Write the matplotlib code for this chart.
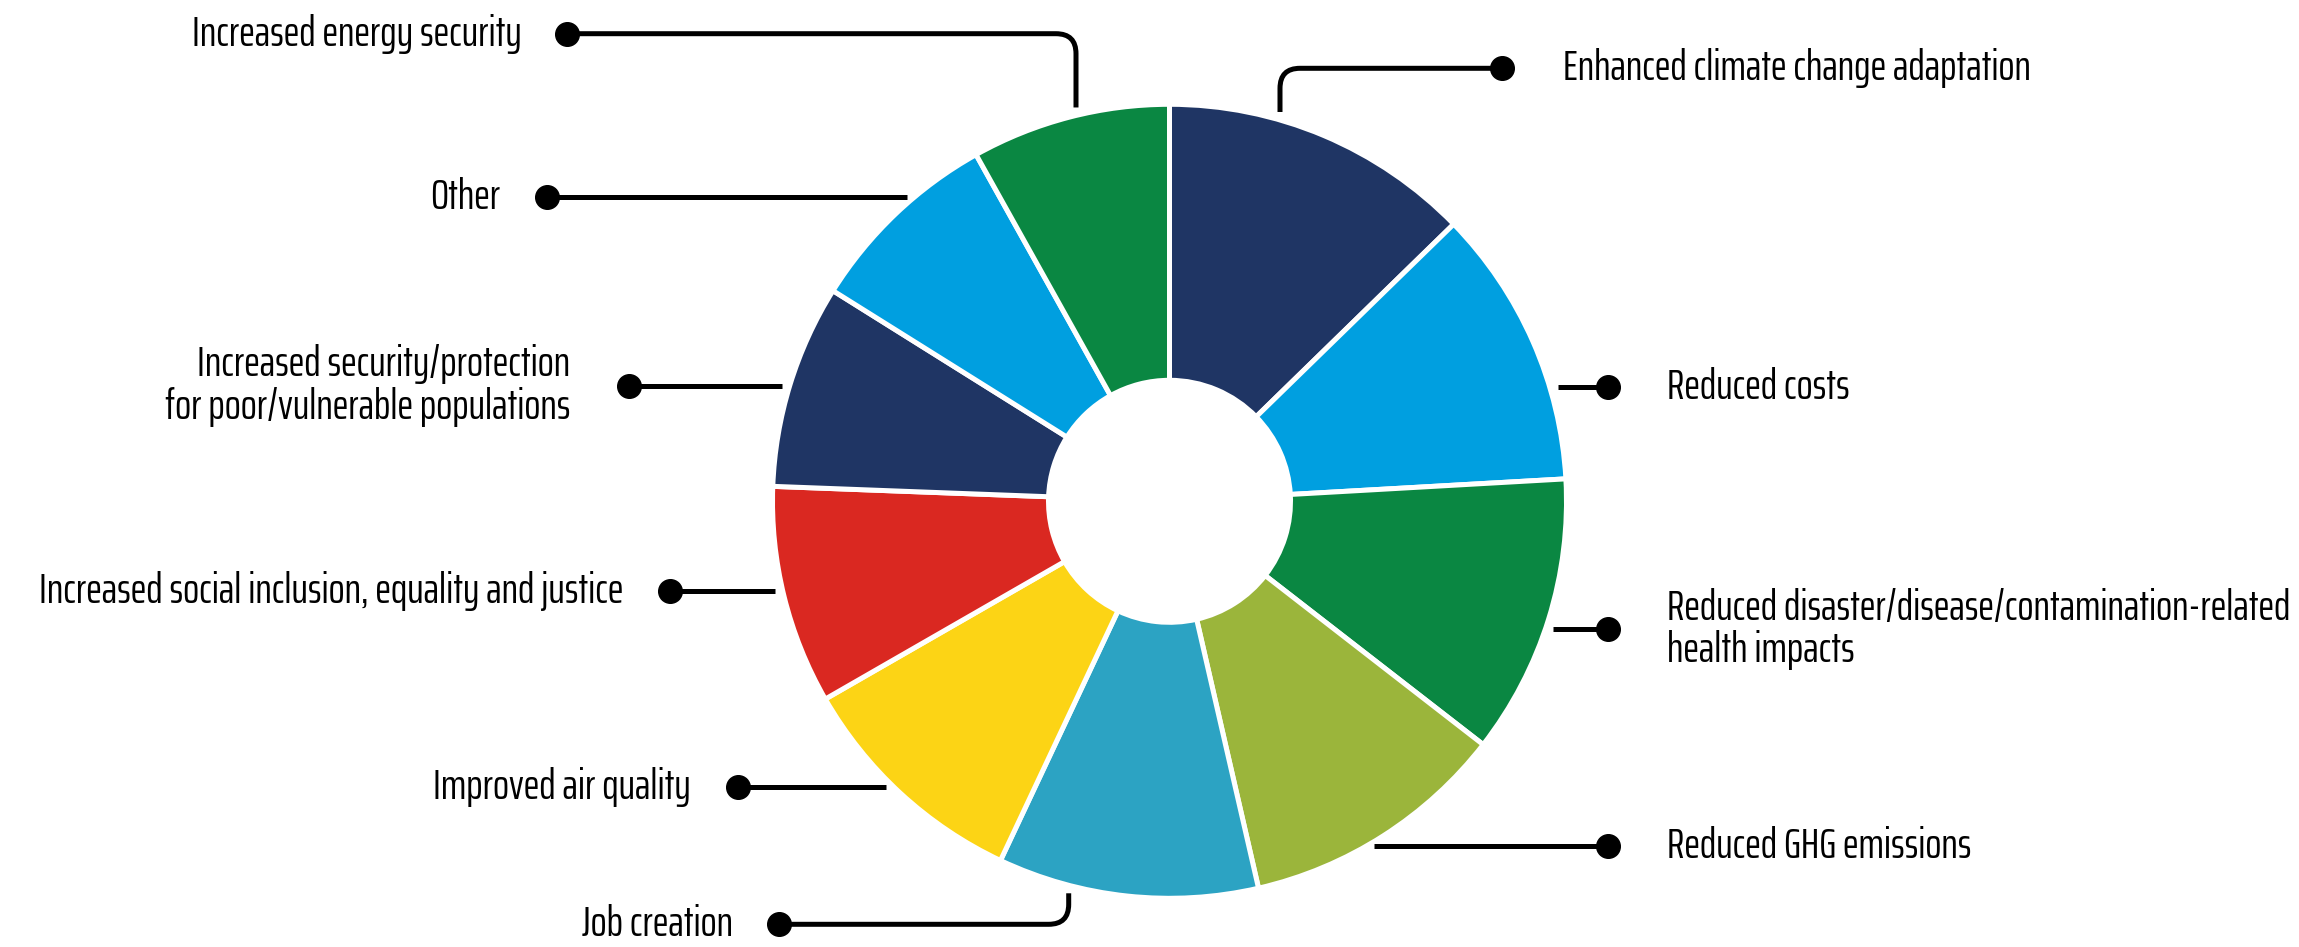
import matplotlib
matplotlib.use("Agg")
import matplotlib.pyplot as plt
import numpy as np
import os
from matplotlib.path import Path
from matplotlib.patches import PathPatch
from matplotlib import font_manager
from matplotlib.font_manager import FontProperties

# ---------------- data ----------------
categories = [
    "Enhanced climate change adaptation",
    "Reduced costs",
    "Reduced disaster/disease/contamination-related\nhealth impacts",
    "Reduced GHG emissions",
    "Job creation",
    "Improved air quality",
    "Increased social inclusion, equality and justice",
    "Increased security/protection\nfor poor/vulnerable populations",
    "Other",
    "Increased energy security",
]
values = [12.7, 11.4, 11.4, 10.9, 10.6, 9.7, 8.9, 8.3, 8.0, 8.1]
colors = ["#1F3564", "#009FE0", "#0A8742", "#9BB53B", "#2CA3C3",
          "#FCD415", "#DA2821", "#1F3564", "#009FE0", "#0A8742"]

# ---------------- layout ----------------
W, H = 2299, 947
CX, CY = 1169.5, 947 - 501.3
R_OUT, R_IN = 397, 121
GAP = 8

# pick a squarish extra-condensed regular sans font
preferred = ["Saira ExtraCondensed", "Saira Extra Condensed", "Sofia Sans Extra Condensed",
             "Fira Sans Extra Condensed", "Barlow Condensed", "Archivo Narrow",
             "Liberation Sans Narrow"]
FP = None
entries = font_manager.fontManager.ttflist
for name in preferred:
    for f in entries:
        base = os.path.basename(f.fname).lower()
        if f.name == name and f.style == "normal" and (
                "regular" in base or "[wght]" in base or f.weight in (400, "normal")):
            if "italic" in base:
                continue
            FP = dict(fname=f.fname)
            break
    if FP:
        break
if FP is None:
    FP = dict(family="DejaVu Sans", stretch="condensed")

fig = plt.figure(figsize=(W / 100, H / 100), dpi=100)
ax = fig.add_axes([0, 0, 1, 1])

ax.pie(values, colors=colors, startangle=90, counterclock=False,
       radius=R_OUT, center=(CX, CY),
       wedgeprops=dict(width=R_OUT - R_IN, edgecolor="white", linewidth=3.6),
       frame=True)
ax.set_xlim(0, W)
ax.set_ylim(0, H)
ax.set_aspect("auto")
ax.axis("off")

# font size: fit the reference width of the longest single-line label
renderer = fig.canvas.get_renderer()
t = ax.text(0, 0, categories[0], fontproperties=FontProperties(size=20, **FP))
wpx = t.get_window_extent(renderer).width
t.remove()
FS = 20 * 468.0 / wpx
FONTP = FontProperties(size=FS, **FP)

LW = 3.6


def draw_leader(verts, codes, dot):
    pp = PathPatch(Path(verts, codes), facecolor="none", edgecolor="black",
                   lw=LW, capstyle="butt", joinstyle="round", zorder=1)
    ax.add_patch(pp)
    ax.plot([dot[0]], [dot[1]], "o", color="black", ms=17, zorder=3)


def horiz(y_pix, side, dot_x):
    y = H - y_pix
    dy = y - CY
    dx = np.sqrt(R_OUT ** 2 - dy ** 2)
    x0 = CX + dx + GAP if side == "R" else CX - dx - GAP
    draw_leader([(x0, y), (dot_x, y)], [Path.MOVETO, Path.LINETO], (dot_x, y))
    return y


def vert(x, up, y_corner_pix, dot_x, rad=20):
    yc = H - y_corner_pix
    dx = x - CX
    dy = np.sqrt(R_OUT ** 2 - dx ** 2)
    if up:
        y0, s = CY + dy + GAP, 1
    else:
        y0, s = CY - dy - GAP, -1
    hdir = 1 if dot_x > x else -1
    verts = [(x, y0), (x, yc - s * rad), (x, yc), (x + hdir * rad, yc), (dot_x, yc)]
    codes = [Path.MOVETO, Path.LINETO, Path.CURVE3, Path.CURVE3, Path.LINETO]
    draw_leader(verts, codes, (dot_x, yc))
    return yc


def label(x_pix, y, text, side):
    ha = "left" if side == "R" else "right"
    ax.text(x_pix, y, text, ha=ha, va="center", multialignment=ha,
            fontproperties=FONTP, color="black", linespacing=1.08)


y = vert(1280, True, 68.3, 1502)
label(1563, y, categories[0], "R")
y = horiz(387, "R", 1608)
label(1667, y, categories[1], "R")
y = horiz(629, "R", 1608)
label(1667, y, categories[2], "R")
y = horiz(846, "R", 1608)
label(1667, y, categories[3], "R")
y = vert(1068.7, False, 924.3, 778.5)
label(733, y, categories[4], "L")
y = horiz(786.7, "L", 737.5)
label(690.6, y, categories[5], "L")
y = horiz(591, "L", 670)
label(623, y, categories[6], "L")
y = horiz(385.5, "L", 629)
label(570, y, categories[7], "L")
y = horiz(197, "L", 547)
label(500, y, categories[8], "L")
y = vert(1076, True, 33.7, 567)
label(522, y, categories[9], "L")

fig.savefig("out.png", dpi=100, facecolor="white")
